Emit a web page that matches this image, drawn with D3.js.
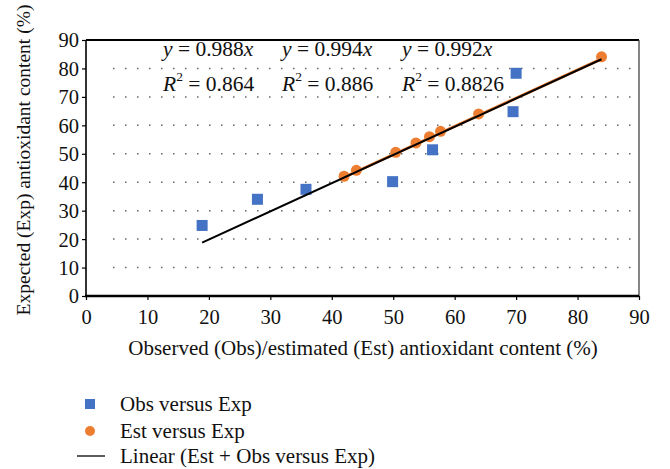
<!DOCTYPE html>
<html>
<head>
<meta charset="utf-8">
<script src="https://cdn.jsdelivr.net/npm/d3@7/dist/d3.min.js"></script>
<style>
  body { margin: 0; background: #fff; }
  svg text { font-family: "Liberation Serif", "DejaVu Serif", serif; fill: #111; }
  .axis path { display: none; }
</style>
</head>
<body>
<div id="chart"></div>
<script>
// observed vs expected (blue squares)
var obsX = [18.9, 27.9, 35.8, 49.9, 56.4, 69.5, 70.0];
var obsY = [24.8, 34.0, 37.5, 40.2, 51.4, 64.8, 78.3];
// estimated vs expected (orange circles)
var estX = [42.0, 44.0, 50.4, 53.7, 55.9, 57.7, 63.9, 83.9];
var estY = [42.1, 44.2, 50.5, 53.8, 56.0, 57.9, 64.0, 84.1];
// trend slopes (y = a x)
var slopes = [0.988, 0.994, 0.992];
var r2 = ["0.864", "0.886", "0.8826"];
var xTicks = [0, 10, 20, 30, 40, 50, 60, 70, 80, 90];
var yTicks = [0, 10, 20, 30, 40, 50, 60, 70, 80, 90];
var legendLabels = ["Obs versus Exp", "Est versus Exp", "Linear (Est + Obs versus Exp)"];

var width = 670, height = 469;
var padding = { top: 40, right: 31, bottom: 173, left: 86 };
var blue = "#4472c4", orange = "#ed7d31";

var svg = d3.select("#chart").append("svg")
    .attr("width", width)
    .attr("height", height);

var xScale = d3.scaleLinear().domain([0, 90]).range([padding.left, width - padding.right]);
var yScale = d3.scaleLinear().domain([0, 90]).range([height - padding.bottom, padding.top]);

// dotted grid
svg.append("g").selectAll("line")
    .data(yTicks.filter(function(d) { return d > 0 && d < 90; }))
    .enter().append("line")
    .attr("x1", xScale(0) + 27)
    .attr("x2", xScale(90) - 2)
    .attr("y1", function(d) { return yScale(d); })
    .attr("y2", function(d) { return yScale(d); })
    .attr("stroke", "#666")
    .attr("stroke-width", 1.5)
    .attr("stroke-dasharray", "1.5,10.5");

// frame: top and right border
svg.append("line")
    .attr("x1", xScale(0)).attr("x2", xScale(90))
    .attr("y1", yScale(90)).attr("y2", yScale(90))
    .attr("stroke", "#000").attr("stroke-width", 2.2);
svg.append("line")
    .attr("x1", xScale(90)).attr("x2", xScale(90))
    .attr("y1", yScale(90)).attr("y2", yScale(0))
    .attr("stroke", "#444").attr("stroke-width", 1.3);

var xAxis = d3.axisBottom(xScale).tickValues(xTicks).tickSize(4).tickPadding(9);
var yAxis = d3.axisLeft(yScale).tickValues(yTicks).tickSize(4).tickPadding(3);

var gx = svg.append("g")
    .attr("class", "axis")
    .attr("transform", "translate(0," + yScale(0) + ")")
    .call(xAxis);
gx.selectAll("text").attr("font-size", 20.5).attr("fill", "#111");
gx.selectAll("line").attr("stroke", "#000").attr("stroke-width", 1.2);

var gy = svg.append("g")
    .attr("class", "axis")
    .attr("transform", "translate(" + xScale(0) + ",0)")
    .call(yAxis);
gy.selectAll("text").attr("font-size", 20.5).attr("fill", "#111").attr("dy", "0.34em");
gy.selectAll("line").attr("stroke", "#000").attr("stroke-width", 1.2);

// axis lines
svg.append("line")
    .attr("x1", xScale(0)).attr("x2", xScale(0))
    .attr("y1", yScale(90)).attr("y2", yScale(0))
    .attr("stroke", "#000").attr("stroke-width", 1.6);
svg.append("line")
    .attr("x1", xScale(0) - 1).attr("x2", xScale(90))
    .attr("y1", yScale(0)).attr("y2", yScale(0))
    .attr("stroke", "#000").attr("stroke-width", 2.4);

// trend lines: est (orange, under) then combined (black)
var estMin = d3.min(estX), estMax = d3.max(estX);
svg.append("line")
    .attr("x1", xScale(estMin)).attr("y1", yScale(slopes[1] * estMin))
    .attr("x2", xScale(estMax)).attr("y2", yScale(slopes[1] * estMax))
    .attr("stroke", orange).attr("stroke-width", 3);

var allX = obsX.concat(estX);
var xMin = d3.min(allX), xMax = d3.max(allX);

// points
svg.append("g").selectAll("rect")
    .data(obsX)
    .enter().append("rect")
    .attr("x", function(d) { return xScale(d) - 5.5; })
    .attr("y", function(d, i) { return yScale(obsY[i]) - 5.5; })
    .attr("width", 11)
    .attr("height", 11)
    .attr("fill", blue);

svg.append("g").selectAll("circle")
    .data(estX)
    .enter().append("circle")
    .attr("cx", function(d) { return xScale(d); })
    .attr("cy", function(d, i) { return yScale(estY[i]); })
    .attr("r", 5.5)
    .attr("fill", orange);

svg.append("line")
    .attr("x1", xScale(xMin)).attr("y1", yScale(slopes[2] * xMin))
    .attr("x2", xScale(xMax)).attr("y2", yScale(slopes[2] * xMax))
    .attr("stroke", "#000").attr("stroke-width", 2);

// equations
var eqX = [163, 282, 402];
for (var i = 0; i < slopes.length; i++) {
    var t = svg.append("text")
        .attr("x", eqX[i])
        .attr("y", 56)
        .attr("font-size", 21.5);
    t.append("tspan").attr("font-style", "italic").text("y");
    t.append("tspan").text(" = " + slopes[i].toFixed(3));
    t.append("tspan").attr("font-style", "italic").text("x");

    var r = svg.append("text")
        .attr("x", eqX[i])
        .attr("y", 91)
        .attr("font-size", 21.5);
    r.append("tspan").attr("font-style", "italic").text("R");
    r.append("tspan").attr("font-size", 13.5).attr("dy", -10).text("2");
    r.append("tspan").attr("dy", 10).text(" = " + r2[i]);
}

// axis titles
svg.append("text")
    .attr("x", 363)
    .attr("y", 355)
    .attr("text-anchor", "middle")
    .attr("font-size", 21)
    .text("Observed (Obs)/estimated (Est) antioxidant content (%)");

svg.append("text")
    .attr("transform", "translate(30," + 160 + ") rotate(-90)")
    .attr("text-anchor", "middle")
    .attr("font-size", 19.5)
    .text("Expected (Exp) antioxidant content (%)");

// legend
var legY = [404, 431, 456];
svg.append("rect")
    .attr("x", 85).attr("y", legY[0] - 5)
    .attr("width", 10).attr("height", 10)
    .attr("fill", blue);
svg.append("circle")
    .attr("cx", 90).attr("cy", legY[1])
    .attr("r", 5).attr("fill", orange);
svg.append("line")
    .attr("x1", 77).attr("x2", 105)
    .attr("y1", legY[2]).attr("y2", legY[2])
    .attr("stroke", "#333").attr("stroke-width", 1.6);

svg.append("g").selectAll("text")
    .data(legendLabels)
    .enter().append("text")
    .attr("x", 120)
    .attr("y", function(d, i) { return legY[i] + 7; })
    .attr("font-size", 21)
    .text(function(d) { return d; });
</script>
</body>
</html>
